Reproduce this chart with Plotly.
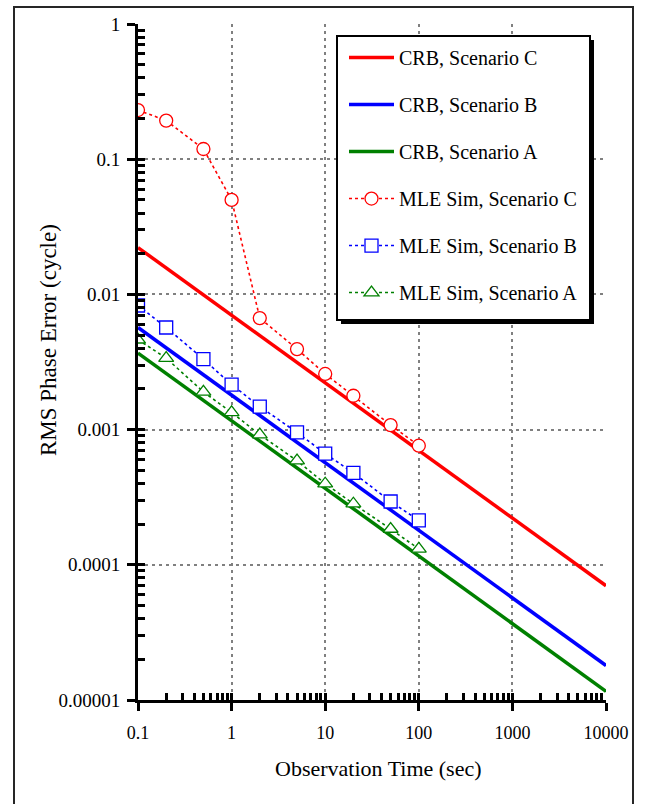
import plotly.graph_objects as go

# ---- data ----
crb_x = [0.1, 10000]
crb_c = [0.0222, 0.0000700]
crb_b = [0.00569, 0.0000180]
crb_a = [0.00368, 0.0000116]

sim_x = [0.1, 0.2, 0.5, 1, 2, 5, 10, 20, 50, 100]
sim_c = [0.231, 0.193, 0.119, 0.050, 0.00668, 0.00394, 0.00258, 0.00178, 0.00108, 0.00076]
sim_b = [0.00828, 0.00569, 0.00332, 0.00215, 0.00148, 0.000953, 0.000664, 0.000478, 0.000294, 0.000213]
sim_a = [0.00462, 0.00338, 0.00190, 0.00134, 0.000917, 0.000589, 0.000398, 0.000283, 0.000184, 0.000131]

x_ticks = [0.1, 1, 10, 100, 1000, 10000]
x_ticktext = ["0.1", "1", "10", "100", "1000", "10000"]
y_ticks = [0.00001, 0.0001, 0.001, 0.01, 0.1, 1]
y_ticktext = ["0.00001", "0.0001", "0.001", "0.01", "0.1", "1"]

x_title = "Observation Time (sec)"
y_title = "RMS Phase Error (cycle)"

RED, BLUE, GREEN = "#FF0000", "#0000FF", "#008000"
FONT = "Liberation Serif"

fig = go.Figure()

def crb(name, y, color):
    fig.add_trace(go.Scatter(x=crb_x, y=y, mode="lines", name=name, legendgroup=name,
                             line=dict(color=color, width=3.5)))

def sim(name, y, color, symbol):
    fig.add_trace(go.Scatter(x=sim_x, y=y, mode="lines+markers", name=name, legendgroup=name,
                             line=dict(color=color, width=1.6, dash="dot"),
                             marker=dict(symbol=symbol, size=13, color="white",
                                         line=dict(color=color, width=1.3))))

crb("CRB, Scenario C", crb_c, RED)
crb("CRB, Scenario B", crb_b, BLUE)
crb("CRB, Scenario A", crb_a, GREEN)
sim("MLE Sim, Scenario C", sim_c, RED, "circle")
sim("MLE Sim, Scenario B", sim_b, BLUE, "square")
sim("MLE Sim, Scenario A", sim_a, GREEN, "triangle-up")

# invisible trace for the overlay axes (inside ticks)
fig.add_trace(go.Scatter(x=[1], y=[1], xaxis="x2", yaxis="y2", mode="markers",
                         marker=dict(opacity=0), showlegend=False, hoverinfo="skip"))

minor_x = [m * 10 ** e for e in range(-1, 4) for m in range(1, 10)] + [10000]
minor_y = [m * 10 ** e for e in range(-5, 0) for m in range(1, 10)] + [1]

grid = dict(showgrid=True, gridcolor="#808080", gridwidth=1.5, griddash="3px,4px")

fig.update_layout(
    width=646, height=804,
    margin=dict(l=138, r=40, t=24, b=104),
    paper_bgcolor="white", plot_bgcolor="white",
    font=dict(family=FONT, size=20, color="black"),
    showlegend=True,
    xaxis=dict(type="log", range=[-1, 4], tickvals=x_ticks, ticktext=x_ticktext,
               ticks="outside", ticklen=8, tickwidth=3, tickcolor="black",
               showline=True, linewidth=3, linecolor="black", zeroline=False,
               tickfont=dict(family=FONT, size=18), ticklabelstandoff=6,
               **grid),
    yaxis=dict(type="log", range=[-5, 0], tickvals=y_ticks, ticktext=y_ticktext,
               ticks="outside", ticklen=8, tickwidth=3, tickcolor="black",
               showline=True, linewidth=3, linecolor="black", zeroline=False,
               tickfont=dict(family=FONT, size=19), ticklabelstandoff=3,
               **grid),
    xaxis2=dict(type="log", range=[-1, 4], overlaying="x", anchor="y2", side="bottom",
                tickvals=minor_x, ticks="inside", ticklen=7, tickwidth=2.5, tickcolor="black",
                showticklabels=False, showgrid=False, showline=False, zeroline=False),
    yaxis2=dict(type="log", range=[-5, 0], overlaying="y", anchor="x2", side="left",
                tickvals=minor_y, ticks="inside", ticklen=7, tickwidth=2.5, tickcolor="black",
                showticklabels=False, showgrid=False, showline=False, zeroline=False),
    legend=dict(x=(342 - 138) / 468, y=0.9822, xanchor="left", yanchor="top",
                bgcolor="rgba(0,0,0,0)", bordercolor="rgba(0,0,0,0)", borderwidth=2,
                font=dict(family=FONT, size=20), traceorder="grouped",
                tracegroupgap=18, itemwidth=45),
    annotations=[
        dict(text=x_title, xref="paper", yref="paper", x=(378 - 138) / 468, y=(700 - 768) / 676,
             xanchor="center", yanchor="middle", showarrow=False,
             font=dict(family=FONT, size=22)),
        dict(text=y_title, xref="paper", yref="paper", x=(49 - 138) / 468, y=(700 - 340) / 676,
             xanchor="center", yanchor="middle", showarrow=False, textangle=-90,
             font=dict(family=FONT, size=23)),
    ],
    shapes=[
        # page frame
        dict(type="rect", xref="paper", yref="paper",
             x0=(14 - 138) / 468, x1=(633 - 138) / 468,
             y0=(700 - 812) / 676, y1=(700 - 7) / 676,
             line=dict(color="#262626", width=2), fillcolor="rgba(0,0,0,0)", layer="below"),
        # legend shadow
        dict(type="rect", xref="paper", yref="paper",
             x0=(341 - 138) / 468, x1=(594 - 138) / 468,
             y0=(700 - 324) / 676, y1=(700 - 40) / 676,
             line=dict(width=0), fillcolor="black", layer="above"),
        # legend frame
        dict(type="rect", xref="paper", yref="paper",
             x0=(337 - 138) / 468, x1=(590 - 138) / 468,
             y0=(700 - 320) / 676, y1=(700 - 36) / 676,
             line=dict(color="black", width=2), fillcolor="white", layer="above"),
    ],
)

fig.write_html("out.html")
